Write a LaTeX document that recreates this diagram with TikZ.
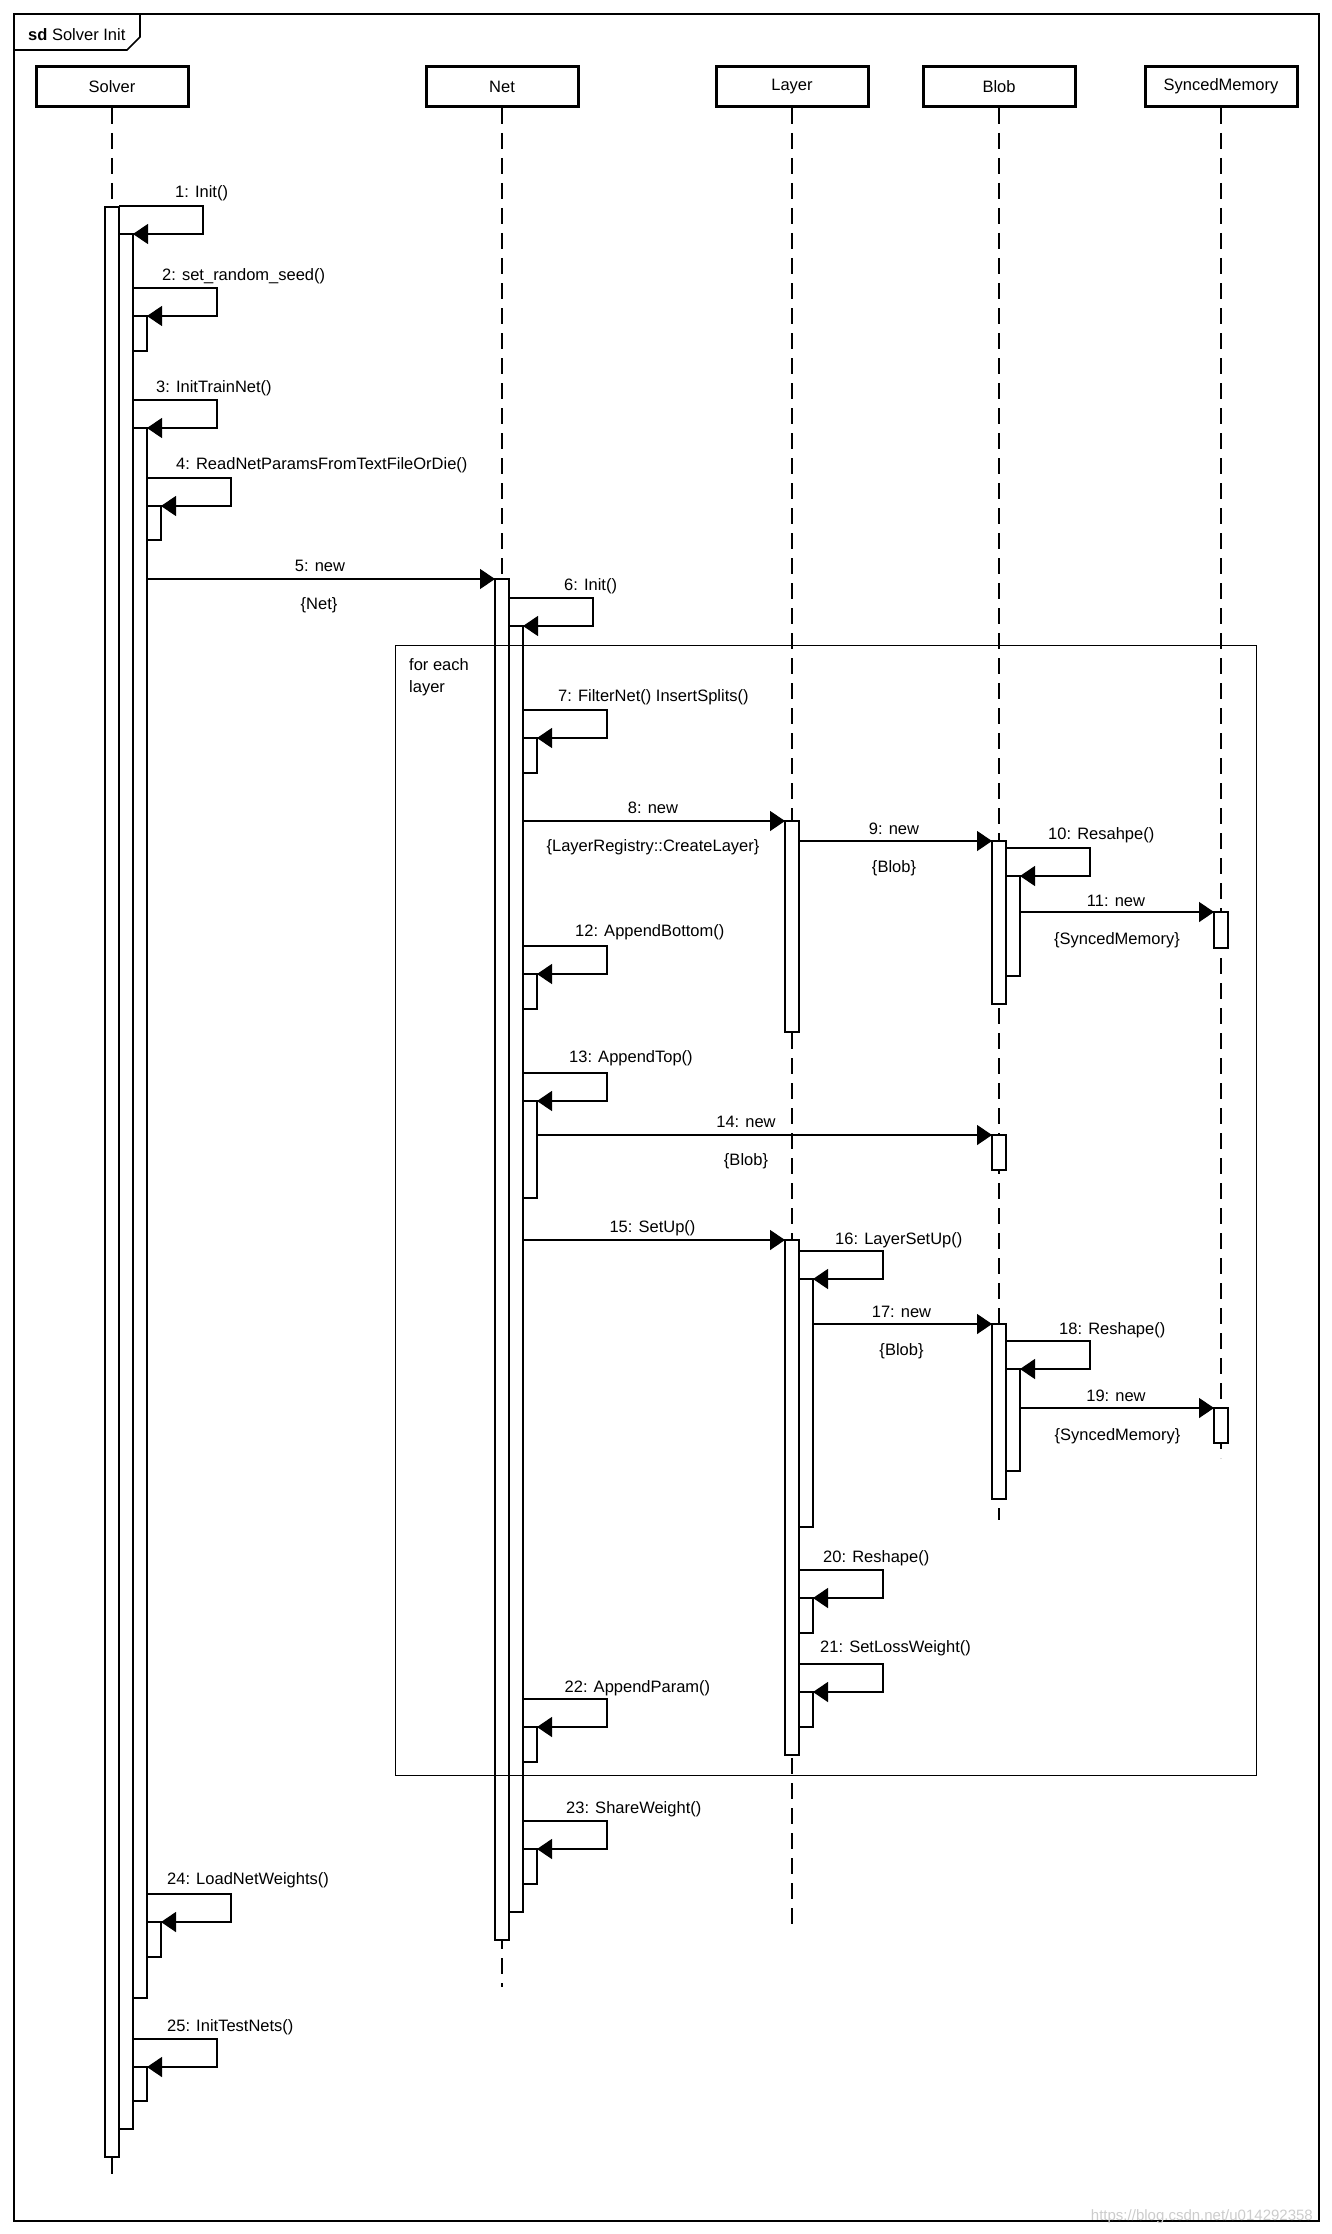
\documentclass[tikz,border=0pt]{standalone}
\usepackage{fontspec}
\setmainfont{Liberation Sans}
\usetikzlibrary{arrows.meta}
\newcommand\actbar[4]{\node[act, minimum height={(#4)-(#3)}] (#1) at ({#2+7},{((#3)+(#4))/2}) {};}
\newcommand\selfmsg[1]{\draw[msg] ([yshift=28pt]#1.north west) -- ++(84,0) |- (#1.north east);}
\newcommand\mlabel[4]{\node[lbl, anchor=base west] (#1) at (#2,#3) {#4};}
\newcommand\clabel[4]{\node[lbl, anchor=base] (#1) at (#2,#3) {#4};}
\begin{document}
\begin{tikzpicture}[x=1pt,y=-1pt,
  head/.style={draw, line width=3pt, minimum width=152pt, minimum height=40pt, inner sep=0pt, font=\fontsize{16.5}{19}\selectfont},
  life/.style={line width=1.4pt, dash pattern=on 16pt off 9pt},
  act/.style={draw, fill=white, line width=1.4pt, minimum width=14pt, inner sep=0pt, outer sep=0pt},
  msg/.style={line width=1.4pt, -{Triangle[length=15pt,width=20pt]}},
  lbl/.style={inner sep=0pt, font=\fontsize{16.5}{19}\selectfont},
  frameline/.style={line width=1.6pt}
]
\useasboundingbox (0,0) rectangle (1332,2234);
% outer frame
\draw[frameline] (14,14) rectangle (1319,2221);
\draw[frameline] (14,50) -- (127,50) -- (140,37) -- (140,14);
\node[lbl, anchor=base west] (title) at (28,40.5) {\textbf{sd} Solver Init};

% heads
\node[head] (solver) at (112,86.5) {Solver};
\node[head] (net) at (502,86.5) {Net};
\node[head] (layer) at (792,86.5) {Layer};
\node[head] (blob) at (999,86.5) {Blob};
\node[head] (sm) at (1221,86.5) {SyncedMemory};

% lifelines
\coordinate (solverEnd) at (112,2180);
\coordinate (netEnd) at (502,1987);
\coordinate (layerEnd) at (792,1932);
\coordinate (blobEnd) at (999,1520);
\coordinate (smEnd) at (1221,1458);
\draw[life] (solver.south) -- (solverEnd);
\draw[life] (net.south) -- (netEnd);
\draw[life] (layer.south) -- (layerEnd);
\draw[life] (blob.south) -- (blobEnd);
\draw[life] (sm.south) -- (smEnd);

% activations: Solver
\actbar{s1}{105}{207}{2157}
\actbar{s2}{119}{234}{2129}
\actbar{s3}{133}{316}{351}
\actbar{s4}{133}{428}{1998}
\actbar{s5}{147}{506}{540}
\actbar{s6}{147}{1922}{1957}
\actbar{s7}{133}{2067}{2101}
% Net
\actbar{n1}{495}{579}{1940}
\actbar{n2}{509}{626}{1912}
\actbar{n3}{523}{738}{773}
\actbar{n4}{523}{974}{1009}
\actbar{n5}{523}{1101}{1198}
\actbar{n6}{523}{1727}{1762}
\actbar{n7}{523}{1849}{1884}
% Layer
\actbar{l1}{785}{821}{1032}
\actbar{l2}{785}{1240}{1755}
\actbar{l3}{799}{1279}{1527}
\actbar{l4}{799}{1598}{1633}
\actbar{l5}{799}{1692}{1727}
% Blob
\actbar{b1}{992}{841}{1004}
\actbar{b2}{1006}{876}{976}
\actbar{b3}{992}{1135}{1170}
\actbar{b4}{992}{1324}{1499}
\actbar{b5}{1006}{1369}{1471}
% SyncedMemory
\actbar{m1}{1214}{912}{948}
\actbar{m2}{1214}{1408}{1443}

% self messages
\selfmsg{s2}
\selfmsg{s3}
\selfmsg{s4}
\selfmsg{s5}
\selfmsg{n2}
\selfmsg{n3}
\selfmsg{b2}
\selfmsg{n4}
\selfmsg{n5}
\selfmsg{l3}
\selfmsg{b5}
\selfmsg{l4}
\selfmsg{l5}
\selfmsg{n6}
\selfmsg{n7}
\selfmsg{s6}
\selfmsg{s7}

% messages between lifelines
\draw[msg] (s4.east |- n1.north west) -- (n1.north west);
\draw[msg] (n2.east |- l1.north west) -- (l1.north west);
\draw[msg] (l1.east |- b1.north west) -- (b1.north west);
\draw[msg] (b2.east |- m1.north west) -- (m1.north west);
\draw[msg] (n5.east |- b3.north west) -- (b3.north west);
\draw[msg] (n2.east |- l2.north west) -- (l2.north west);
\draw[msg] (l3.east |- b4.north west) -- (b4.north west);
\draw[msg] (b5.east |- m2.north west) -- (m2.north west);

% loop fragment
\node[draw, line width=1.6pt, inner sep=0pt, outer sep=0pt, minimum width=861pt, minimum height=1130pt] (loop) at (826,1210.5) {};
\node[lbl, anchor=base west] (loopA) at (409,670) {for each};
\node[lbl, anchor=base west] (loopB) at (409,692) {layer};

% self message labels
\mlabel{t1}{175}{198}{1: Init()}
\mlabel{t2}{162}{280}{2: set\_random\_seed()}
\mlabel{t3}{156}{392}{3: InitTrainNet()}
\mlabel{t4}{176}{469}{4: ReadNetParamsFromTextFileOrDie()}
\mlabel{t6}{564}{590}{6: Init()}
\mlabel{t7}{558}{701}{7: FilterNet() InsertSplits()}
\mlabel{t10}{1048}{839}{10: Resahpe()}
\mlabel{t12}{575}{936}{12: AppendBottom()}
\mlabel{t13}{569}{1062}{13: AppendTop()}
\mlabel{t16}{835}{1244}{16: LayerSetUp()}
\mlabel{t18}{1059}{1334}{18: Reshape()}
\mlabel{t20}{823}{1562}{20: Reshape()}
\mlabel{t21}{820}{1652}{21: SetLossWeight()}
\mlabel{t22}{564.5}{1692}{22: AppendParam()}
\mlabel{t23}{566}{1813}{23: ShareWeight()}
\mlabel{t24}{167}{1884}{24: LoadNetWeights()}
\mlabel{t25}{167}{2031}{25: InitTestNets()}

% message labels
\clabel{t5}{320}{571}{5: new}
\clabel{t5b}{319}{609}{\{Net\}}
\clabel{t8}{653}{813}{8: new}
\clabel{t8b}{653}{851}{\{LayerRegistry::CreateLayer\}}
\clabel{t9}{894}{834}{9: new}
\clabel{t9b}{894}{872}{\{Blob\}}
\clabel{t11}{1116}{906}{11: new}
\clabel{t11b}{1117}{944}{\{SyncedMemory\}}
\clabel{t14}{746}{1127}{14: new}
\clabel{t14b}{746}{1165}{\{Blob\}}
\clabel{t15}{652.5}{1232}{15: SetUp()}
\clabel{t17}{901.5}{1317}{17: new}
\clabel{t17b}{901.5}{1355}{\{Blob\}}
\clabel{t19}{1116}{1401}{19: new}
\clabel{t19b}{1117.5}{1440}{\{SyncedMemory\}}

% watermark
\node[anchor=base east, inner sep=0pt, text=gray!40, font=\fontsize{15}{18}\selectfont] (wm) at (1313,2220) {https://blog.csdn.net/u014292358};
\end{tikzpicture}
\end{document}
